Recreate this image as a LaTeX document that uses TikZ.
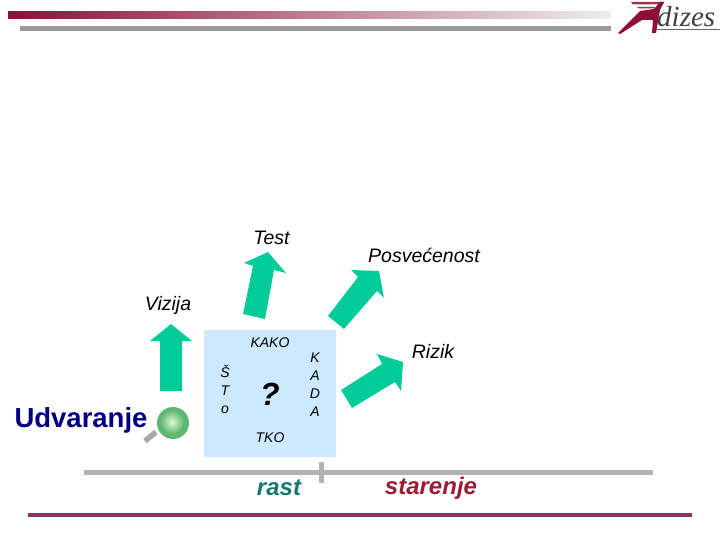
\documentclass[tikz,border=0pt]{standalone}
\usepackage{fontspec}
\setmainfont{Liberation Sans}
\newfontfamily\logofont{Liberation Serif}
\definecolor{arrowgreen}{HTML}{00CC99}
\definecolor{panelblue}{HTML}{CCE9FF}
\definecolor{barred}{HTML}{8E0F33}
\definecolor{bargrey}{HTML}{999999}
\definecolor{axisgrey}{HTML}{B2B2B2}
\definecolor{footline}{HTML}{7F3A62}
\definecolor{navy}{HTML}{000080}
\definecolor{rastcol}{HTML}{147A70}
\definecolor{starcol}{HTML}{9C1C35}
\definecolor{lensedge}{HTML}{5FB870}
\definecolor{lensmid}{HTML}{DDF8D0}
\tikzset{
  lab/.style={font=\fontsize{19.5}{22}\selectfont\itshape, text=black, inner sep=0pt},
  small/.style={font=\fontsize{14}{18}\selectfont\itshape, text=black, inner sep=0pt, align=center},
  bigarrow/.style={fill=arrowgreen, draw=none},
}
\begin{document}
\begin{tikzpicture}[x=1pt,y=-1pt]
\useasboundingbox (0,0) rectangle (720,540);
% header
\shade[left color=barred, right color=white!93!black, shading angle=90] (8,12) rectangle (611,19);
\fill[bargrey] (20,26) rectangle (611,31);
% logo
\fill[barred!85!white] (631,2) -- (664,2) -- (663,4.5) -- (633,4.5) -- cycle;
\fill[barred!85!white] (637,7) -- (655,7) -- (654,8.5) -- (639,8.5) -- cycle;
\fill[barred] (664,2) -- (660,10) -- (656,33) -- (652,33) -- (653,20) -- (642,20) -- (620,34) -- (618,33) -- (640,11) -- (654,9) -- (660,2) -- cycle;
\draw[black!60, line width=0.5pt] (656,29.5) -- (720,29.5);
\node[inner sep=0pt, anchor=base west, text=black!75, font=\logofont\fontsize{29}{31}\selectfont\itshape] (logo) at (657,26.5) {dizes};
% panel
\fill[panelblue] (204,330) rectangle (336,457);
% arrows
\fill[bigarrow] (171,324) -- (192,341) -- (182,341) -- (182,391) -- (160,391) -- (160,341) -- (150,341) -- cycle;
\fill[bigarrow] (268,252) -- (286,273) -- (274,270) -- (265,319) -- (243,314) -- (253,266) -- (244,263) -- cycle;
\fill[bigarrow] (379,271) -- (384,298) -- (377,291) -- (344,329) -- (328,316) -- (358,277) -- (351,270) -- cycle;
\fill[bigarrow] (403,362) -- (401,391) -- (395,382) -- (352,408) -- (341,390) -- (382,364) -- (377,354) -- cycle;
% magnifier
\draw[line width=5.5pt, bargrey!85] (156,432) -- (145,441);
\fill[lensedge] (173,423) circle (16);
\shade[inner color=lensmid, outer color=lensedge] (172,422) circle (12);
% labels
\node[lab, anchor=base] (test) at (271.5,244) {Test};
\node[lab, anchor=base] (posv) at (424,262) {Posvećenost};
\node[lab, anchor=base] (viz) at (168,310) {Vizija};
\node[lab, anchor=base] (riz) at (433,358) {Rizik};
\node[inner sep=0pt, anchor=base, text=navy, font=\fontsize{27.5}{30}\selectfont\bfseries] (udv) at (81,427) {Udvaranje};
\node[small, anchor=base] (kako) at (270,347) {KAKO};
\node[small, anchor=base] (tko) at (270,442) {TKO};
\node[small, anchor=center] (sto) at (225,389) {Š\\T\\o};
\node[small, anchor=center] (kada) at (315,385) {K\\A\\D\\A};
\node[inner sep=0pt, anchor=base, font=\fontsize{32}{34}\selectfont\itshape\bfseries] (q) at (270,405) {?};
% axis
\fill[axisgrey] (84,470) rectangle (653,475);
\fill[axisgrey] (319,462) rectangle (324,483);
\node[inner sep=0pt, anchor=base, text=rastcol, font=\fontsize{24}{26}\selectfont\itshape\bfseries] (rast) at (279,495) {rast};
\node[inner sep=0pt, anchor=base, text=starcol, font=\fontsize{24}{26}\selectfont\itshape\bfseries] (star) at (431,494) {starenje};
\fill[footline] (28,513) rectangle (692,516.5);
\end{tikzpicture}
\end{document}
